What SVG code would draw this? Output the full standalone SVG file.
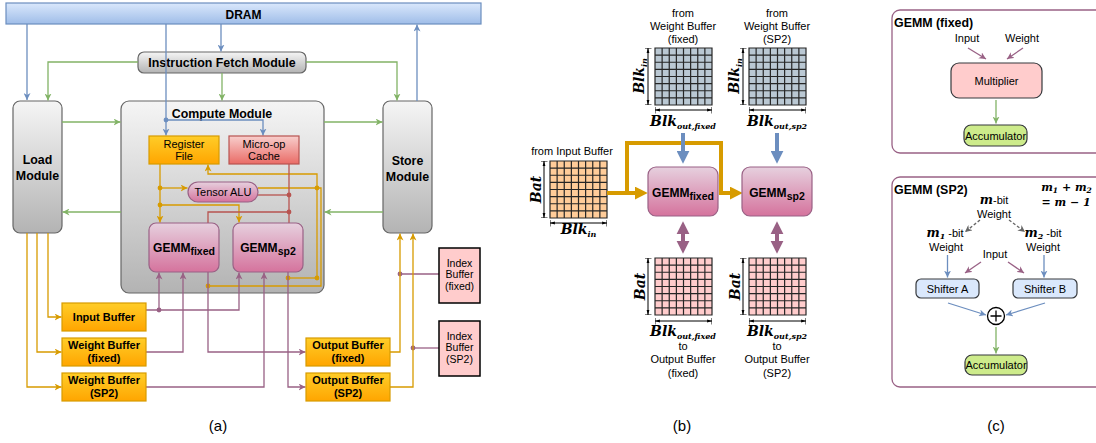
<svg xmlns="http://www.w3.org/2000/svg" xmlns:xlink="http://www.w3.org/1999/xlink" width="1096" height="443" viewBox="0 0 1096 443">
  <style>
    text { font-family: "Liberation Sans", Arial, Helvetica, sans-serif; fill: #000; }
    .bold { font-weight: bold; font-size: 12.4px; }
    .lbl { font-size: 11px; }
    .sm { font-size: 10.5px; }
    .mid { text-anchor: middle; }
    .math { font-family: "DejaVu Serif", "Liberation Serif", serif; font-weight: bold; font-style: italic; font-size: 14px; }
    .sub { font-size: 8px; }
    .cap { font-size: 15px; }
    .ln { fill: none; stroke-width: 1.3; }
    .blue { stroke: #6c8ebf; }
    .green { stroke: #82b366; }
    .orange { stroke: #d79b00; }
    .mauve { stroke: #996185; }
    .red { stroke: #b85450; }
    .gray { stroke: #666666; }
    .thick { fill: none; stroke-width: 4; }
    .dim { fill: none; stroke: #000; stroke-width: 1; marker-start: url(#dimEnd); marker-end: url(#dimEnd); }
    .gridl { fill: none; stroke: #262626; stroke-width: 1.2; }
    .frame { fill: none; stroke: #996185; stroke-width: 1.3; }
    .box { stroke: #36393d; stroke-width: 1.2; }
  </style>
  <defs>
    <linearGradient id="gBlue" x1="0" y1="0" x2="0" y2="1"><stop offset="0" stop-color="#dae8fc"/><stop offset="1" stop-color="#9fbde8"/></linearGradient>
    <linearGradient id="gGray" x1="0" y1="0" x2="0" y2="1"><stop offset="0" stop-color="#f5f5f5"/><stop offset="1" stop-color="#b3b3b3"/></linearGradient>
    <linearGradient id="gOrange" x1="0" y1="0" x2="0" y2="1"><stop offset="0" stop-color="#ffcd28"/><stop offset="1" stop-color="#ffa500"/></linearGradient>
    <linearGradient id="gRed" x1="0" y1="0" x2="0" y2="1"><stop offset="0" stop-color="#f8cecc"/><stop offset="1" stop-color="#ea6b66"/></linearGradient>
    <linearGradient id="gPink" x1="0" y1="0" x2="0" y2="1"><stop offset="0" stop-color="#e6d0de"/><stop offset="1" stop-color="#d5739d"/></linearGradient>

    <marker id="aBlue" viewBox="0 0 10 10" refX="10" refY="5" markerWidth="7" markerHeight="7" markerUnits="userSpaceOnUse" orient="auto"><path d="M0,0 L10,5 L0,10 L3,5 z" fill="#6c8ebf"/></marker>
    <marker id="aGreen" viewBox="0 0 10 10" refX="10" refY="5" markerWidth="7" markerHeight="7" markerUnits="userSpaceOnUse" orient="auto"><path d="M0,0 L10,5 L0,10 L3,5 z" fill="#82b366"/></marker>
    <marker id="aOrange" viewBox="0 0 10 10" refX="10" refY="5" markerWidth="7" markerHeight="7" markerUnits="userSpaceOnUse" orient="auto"><path d="M0,0 L10,5 L0,10 L3,5 z" fill="#d79b00"/></marker>
    <marker id="aMauve" viewBox="0 0 10 10" refX="10" refY="5" markerWidth="7" markerHeight="7" markerUnits="userSpaceOnUse" orient="auto"><path d="M0,0 L10,5 L0,10 L3,5 z" fill="#996185"/></marker>
    <marker id="aGray" viewBox="0 0 10 10" refX="10" refY="5" markerWidth="7" markerHeight="7" markerUnits="userSpaceOnUse" orient="auto"><path d="M0,0 L10,5 L0,10 L3,5 z" fill="#666666"/></marker>

    <marker id="bBlue" viewBox="0 0 12 12" refX="3" refY="6" markerWidth="13" markerHeight="13" markerUnits="userSpaceOnUse" orient="auto"><path d="M0,0 L12,6 L0,12 z" fill="#6c8ebf"/></marker>
    <marker id="bOrange" viewBox="0 0 12 12" refX="3" refY="6" markerWidth="13" markerHeight="13" markerUnits="userSpaceOnUse" orient="auto"><path d="M0,0 L12,6 L0,12 z" fill="#d79b00"/></marker>
    <marker id="bMauve" viewBox="0 0 12 12" refX="3" refY="6" markerWidth="13" markerHeight="14" markerUnits="userSpaceOnUse" orient="auto-start-reverse"><path d="M0,0 L12,6 L0,12 z" fill="#996185"/></marker>

    <marker id="dimEnd" viewBox="0 0 10 10" refX="10" refY="5" markerWidth="7" markerHeight="7" markerUnits="userSpaceOnUse" orient="auto-start-reverse"><path d="M3,3 L10,5 L3,7 z" fill="#000"/><path d="M10,0 V10" stroke="#000" stroke-width="1.4"/></marker>

    <!-- 8x8 cell tile lines -->
    <path id="tile" class="gridl" d="M7.125,0V57M14.25,0V57M21.375,0V57M28.5,0V57M35.625,0V57M42.75,0V57M49.875,0V57M0,7.125H57M0,14.25H57M0,21.375H57M0,28.5H57M0,35.625H57M0,42.75H57M0,49.875H57M0,0H57V57H0Z"/>
  </defs>

  <rect width="1096" height="443" fill="#fff"/>

  <!-- ===== (a) accelerator architecture ===== -->
  <g id="dram"><rect x="6" y="3" width="475" height="21" fill="url(#gBlue)" stroke="#6c8ebf" stroke-width="1.2"/><text class="bold mid" x="243.5" y="18.5" style="font-size:12px">DRAM</text></g>
  <g id="compute-module"><rect x="121" y="101" width="203" height="192" rx="8" fill="url(#gGray)" stroke="#666" stroke-width="1.2"/><text class="bold mid" x="222" y="118">Compute Module</text></g>
  <g id="fetch-module"><rect x="138" y="52" width="168" height="21" rx="6" fill="url(#gGray)" stroke="#666" stroke-width="1.2"/><text class="bold mid" x="222" y="66.5">Instruction Fetch Module</text></g>
  <g id="load-module"><rect x="13" y="101" width="49" height="132" rx="7" fill="url(#gGray)" stroke="#666" stroke-width="1.2"/><text class="bold mid" x="37.5" y="164">Load</text><text class="bold mid" x="37.5" y="180">Module</text></g>
  <g id="store-module"><rect x="383" y="101" width="49" height="132" rx="7" fill="url(#gGray)" stroke="#666" stroke-width="1.2"/><text class="bold mid" x="407.5" y="165">Store</text><text class="bold mid" x="407.5" y="181">Module</text></g>

  <g id="connectors-a">
    <!-- instruction and data paths from/to DRAM -->
    <path class="ln blue" d="M27,24V100" marker-end="url(#aBlue)"/>
    <path class="ln blue" d="M166,24V135.5" marker-end="url(#aBlue)"/>
    <path class="ln blue" d="M166,120H263V135.5" marker-end="url(#aBlue)"/>
    <path class="ln blue" d="M221,24V51.5" marker-end="url(#aBlue)"/>
    <path class="ln blue" d="M417,101V24.5" marker-end="url(#aBlue)"/>
    <circle cx="166" cy="120" r="2.4" fill="#6c8ebf"/>
    <!-- command queues -->
    <path class="ln green" d="M138,62H48V100.5" marker-end="url(#aGreen)"/>
    <path class="ln green" d="M306,62H397V100.5" marker-end="url(#aGreen)"/>
    <path class="ln green" d="M222,73V100.5" marker-end="url(#aGreen)"/>
    <path class="ln green" d="M62,122H120.5" marker-end="url(#aGreen)"/>
    <path class="ln green" d="M324,122H382.5" marker-end="url(#aGreen)"/>
    <path class="ln green" d="M121,212H62.5" marker-end="url(#aGreen)"/>
    <path class="ln green" d="M383,212H324.5" marker-end="url(#aGreen)"/>
    <!-- register file traffic -->
    <path class="ln orange" d="M160,164V222.5" marker-end="url(#aOrange)"/>
    <path class="ln orange" d="M160,188H187.5" marker-end="url(#aOrange)"/>
    <path class="ln orange" d="M160,205H239V222.5" marker-end="url(#aOrange)"/>
    <path class="ln orange" d="M258,188H321V286H208"/>
    <path class="ln orange" d="M317,278V174H208V164.5" marker-end="url(#aOrange)"/>
    <path class="ln orange" d="M288,278H317"/>
    <g fill="#d79b00"><circle cx="160" cy="188" r="2.4"/><circle cx="160" cy="205" r="2.4"/><circle cx="317" cy="188" r="2.4"/><circle cx="317" cy="278" r="2.4"/><circle cx="288" cy="278" r="2.4"/><circle cx="208" cy="286" r="2.4"/></g>
    <!-- micro-op dispatch -->
    <path class="ln red" d="M289,164V223"/>
    <path class="ln red" d="M289,195H258"/>
    <path class="ln red" d="M289,212H208V223"/>
    <g fill="#b85450"><circle cx="289" cy="195" r="2.4"/><circle cx="289" cy="212" r="2.4"/></g>
    <!-- on-chip buffers to/from GEMM cores -->
    <path class="ln mauve" d="M146,310H239V272.5" marker-end="url(#aMauve)"/>
    <path class="ln mauve" d="M159,310V272.5" marker-end="url(#aMauve)"/>
    <path class="ln mauve" d="M146,352H183V272.5" marker-end="url(#aMauve)"/>
    <path class="ln mauve" d="M146,387H264V272.5" marker-end="url(#aMauve)"/>
    <path class="ln mauve" d="M208,272V352H305.5" marker-end="url(#aMauve)"/>
    <path class="ln mauve" d="M288,272V387H305.5" marker-end="url(#aMauve)"/>
    <path class="ln mauve" d="M439,274H400"/>
    <path class="ln mauve" d="M439,348H413"/>
    <g fill="#996185"><circle cx="159" cy="310" r="2.4"/><circle cx="400" cy="274" r="2.4"/><circle cx="413" cy="348" r="2.4"/></g>
    <!-- load / store paths -->
    <path class="ln orange" d="M48,233V317H61.5" marker-end="url(#aOrange)"/>
    <path class="ln orange" d="M37,233V352H61.5" marker-end="url(#aOrange)"/>
    <path class="ln orange" d="M27,233V387H61.5" marker-end="url(#aOrange)"/>
    <path class="ln orange" d="M390,352H400V233.5" marker-end="url(#aOrange)"/>
    <path class="ln orange" d="M390,387H413V233.5" marker-end="url(#aOrange)"/>
  </g>

  <g id="register-file"><rect x="149" y="136" width="70" height="28" fill="url(#gOrange)" stroke="#d79b00" stroke-width="1.2"/><text class="lbl mid" x="184" y="147.5">Register</text><text class="lbl mid" x="184" y="160">File</text></g>
  <g id="microop-cache"><rect x="229" y="136" width="70" height="28" fill="url(#gRed)" stroke="#b85450" stroke-width="1.2"/><text class="lbl mid" x="264" y="147.5">Micro-op</text><text class="lbl mid" x="264" y="160">Cache</text></g>
  <g id="tensor-alu"><rect x="188" y="182" width="70" height="20" rx="10" fill="url(#gPink)" stroke="#996185" stroke-width="1.2"/><text class="lbl mid" x="223" y="196">Tensor ALU</text></g>
  <g id="gemm-fixed-a"><rect x="149" y="223" width="70" height="49" rx="7" fill="url(#gPink)" stroke="#996185" stroke-width="1.2"/><text class="bold mid" x="184" y="251.5" style="font-size:12px">GEMM<tspan dy="3" style="font-size:10.5px">fixed</tspan></text></g>
  <g id="gemm-sp2-a"><rect x="233" y="223" width="70" height="49" rx="7" fill="url(#gPink)" stroke="#996185" stroke-width="1.2"/><text class="bold mid" x="268" y="251.5" style="font-size:12px">GEMM<tspan dy="3" style="font-size:10.5px">sp2</tspan></text></g>

  <g id="input-buffer"><rect x="62" y="303" width="84" height="28" fill="url(#gOrange)" stroke="#d79b00" stroke-width="1.2"/><text class="mid" x="104" y="321" style="font-weight:bold;font-size:11px">Input Buffer</text></g>
  <g id="weight-buffer-fixed"><rect x="62" y="338" width="84" height="28" fill="url(#gOrange)" stroke="#d79b00" stroke-width="1.2"/><text class="mid" x="104" y="349" style="font-weight:bold;font-size:11px">Weight Buffer</text><text class="mid" x="104" y="362" style="font-weight:bold;font-size:11px">(fixed)</text></g>
  <g id="weight-buffer-sp2"><rect x="62" y="373" width="84" height="28" fill="url(#gOrange)" stroke="#d79b00" stroke-width="1.2"/><text class="mid" x="104" y="384" style="font-weight:bold;font-size:11px">Weight Buffer</text><text class="mid" x="104" y="397" style="font-weight:bold;font-size:11px">(SP2)</text></g>
  <g id="output-buffer-fixed"><rect x="306" y="338" width="84" height="28" fill="url(#gOrange)" stroke="#d79b00" stroke-width="1.2"/><text class="mid" x="348" y="349" style="font-weight:bold;font-size:11px">Output Buffer</text><text class="mid" x="348" y="362" style="font-weight:bold;font-size:11px">(fixed)</text></g>
  <g id="output-buffer-sp2"><rect x="306" y="373" width="84" height="28" fill="url(#gOrange)" stroke="#d79b00" stroke-width="1.2"/><text class="mid" x="348" y="384" style="font-weight:bold;font-size:11px">Output Buffer</text><text class="mid" x="348" y="397" style="font-weight:bold;font-size:11px">(SP2)</text></g>
  <g id="index-buffer-fixed"><rect x="439" y="248" width="41" height="55" fill="#ffcccc" stroke="#000" stroke-width="1.5"/><text class="sm mid" x="459.5" y="267">Index</text><text class="sm mid" x="459.5" y="278">Buffer</text><text class="sm mid" x="459.5" y="289.5">(fixed)</text></g>
  <g id="index-buffer-sp2"><rect x="439" y="321" width="41" height="55" fill="#ffcccc" stroke="#000" stroke-width="1.5"/><text class="sm mid" x="459.5" y="340">Index</text><text class="sm mid" x="459.5" y="351">Buffer</text><text class="sm mid" x="459.5" y="362.5">(SP2)</text></g>
  <text class="cap mid" x="218" y="431">(a)</text>

  <!-- ===== (b) tiled GEMM dataflow ===== -->
  <g id="weight-tile-fixed">
    <text class="lbl mid" x="683" y="17">from</text><text class="lbl mid" x="683" y="30">Weight Buffer</text><text class="lbl mid" x="683" y="43">(fixed)</text>
    <rect x="655" y="48" width="57" height="57" fill="#bac8d3"/><use xlink:href="#tile" x="655" y="48"/>
    <path class="dim" d="M648,48V105"/><text class="math mid" transform="translate(644,76) rotate(-90)">Blk<tspan class="sub" dy="2.5">in</tspan></text>
    <path class="dim" d="M655,110H712"/><text class="math mid" x="683" y="126">Blk<tspan class="sub" dy="2.5">out,fixed</tspan></text>
  </g>
  <g id="weight-tile-sp2">
    <text class="lbl mid" x="777" y="17">from</text><text class="lbl mid" x="777" y="30">Weight Buffer</text><text class="lbl mid" x="777" y="43">(SP2)</text>
    <rect x="749" y="48" width="57" height="57" fill="#bac8d3"/><use xlink:href="#tile" x="749" y="48"/>
    <path class="dim" d="M743,48V105"/><text class="math mid" transform="translate(739,76) rotate(-90)">Blk<tspan class="sub" dy="2.5">in</tspan></text>
    <path class="dim" d="M749,110H806"/><text class="math mid" x="777" y="126">Blk<tspan class="sub" dy="2.5">out,sp2</tspan></text>
  </g>
  <g id="input-tile">
    <text class="lbl mid" x="572" y="154.5">from Input Buffer</text>
    <rect x="550" y="161" width="57" height="57" fill="#ffcc99"/><use xlink:href="#tile" x="550" y="161"/>
    <path class="dim" d="M544,161V218"/><text class="math mid" transform="translate(541,189.5) rotate(-90)">Bat</text>
    <path class="dim" d="M550,223H607"/><text class="math mid" x="578.5" y="234">Blk<tspan class="sub" dy="2.5">in</tspan></text>
  </g>
  <g id="output-tile-fixed">
    <rect x="655" y="258" width="57" height="57" fill="#ffcccc"/><use xlink:href="#tile" x="655" y="258"/>
    <path class="dim" d="M648,258V315"/><text class="math mid" transform="translate(645,286.5) rotate(-90)">Bat</text>
    <path class="dim" d="M655,321H712"/><text class="math mid" x="683" y="336">Blk<tspan class="sub" dy="2.5">out,fixed</tspan></text>
    <text class="lbl mid" x="683" y="350">to</text><text class="lbl mid" x="683" y="363">Output Buffer</text><text class="lbl mid" x="683" y="376.5">(fixed)</text>
  </g>
  <g id="output-tile-sp2">
    <rect x="749" y="258" width="57" height="57" fill="#ffcccc"/><use xlink:href="#tile" x="749" y="258"/>
    <path class="dim" d="M743,258V315"/><text class="math mid" transform="translate(740,286.5) rotate(-90)">Bat</text>
    <path class="dim" d="M749,321H806"/><text class="math mid" x="777" y="336">Blk<tspan class="sub" dy="2.5">out,sp2</tspan></text>
    <text class="lbl mid" x="777" y="350">to</text><text class="lbl mid" x="777" y="363">Output Buffer</text><text class="lbl mid" x="777" y="376.5">(SP2)</text>
  </g>
  <g id="connectors-b">
    <path class="thick orange" d="M607,193H638" marker-end="url(#bOrange)"/>
    <path class="thick orange" d="M627,193V143H721V193H733" marker-end="url(#bOrange)"/>
    <path class="thick blue" d="M683,133V154" marker-end="url(#bBlue)"/>
    <path class="thick blue" d="M777,133V154" marker-end="url(#bBlue)"/>
    <path class="thick mauve" d="M683,231V244" marker-start="url(#bMauve)" marker-end="url(#bMauve)"/>
    <path class="thick mauve" d="M777,231V244" marker-start="url(#bMauve)" marker-end="url(#bMauve)"/>
  </g>
  <g id="gemm-fixed-b"><rect x="648" y="167" width="70" height="49" rx="8" fill="url(#gPink)" stroke="#996185" stroke-width="1.2"/><text class="bold mid" x="683" y="197" style="font-size:12px">GEMM<tspan dy="3" style="font-size:10.5px">fixed</tspan></text></g>
  <g id="gemm-sp2-b"><rect x="742" y="167" width="70" height="49" rx="8" fill="url(#gPink)" stroke="#996185" stroke-width="1.2"/><text class="bold mid" x="777" y="197" style="font-size:12px">GEMM<tspan dy="3" style="font-size:10.5px">sp2</tspan></text></g>
  <text class="cap mid" x="682" y="431">(b)</text>

  <!-- ===== (c) processing elements ===== -->
  <g id="pe-fixed">
    <rect class="frame" x="892" y="10" width="215" height="143" rx="8"/>
    <text class="bold" x="894" y="27">GEMM (fixed)</text>
    <text class="lbl mid" x="967" y="42">Input</text>
    <text class="lbl mid" x="1022" y="42">Weight</text>
    <rect class="box" x="951" y="63" width="91" height="35" rx="8" fill="#ffcccc"/>
    <text class="lbl mid" x="996.5" y="85">Multiplier</text>
    <rect class="box" x="964" y="125" width="63" height="21" rx="7" fill="#cdeb8b"/>
    <text class="lbl mid" x="995.5" y="139.5">Accumulator</text>
  </g>
  <g id="pe-sp2">
    <rect class="frame" x="892" y="177" width="215" height="210" rx="8"/>
    <text class="bold" x="894" y="194">GEMM (SP2)</text>
    <text class="math" x="1066.5" y="191" text-anchor="middle" style="font-size:11px">m<tspan dy="2" style="font-size:7.5px">1</tspan><tspan dy="-2"> + m</tspan><tspan dy="2" style="font-size:7.5px">2</tspan></text>
    <text class="math" x="1066" y="206" text-anchor="middle" style="font-size:11px">= m − 1</text>
    <text class="lbl mid" x="994" y="204"><tspan class="math" style="font-size:12.5px">m</tspan>-bit</text>
    <text class="lbl mid" x="994" y="217.5">Weight</text>
    <text class="lbl mid" x="945" y="237"><tspan class="math" style="font-size:12.5px">m<tspan dy="2" style="font-size:8px">1</tspan></tspan><tspan dy="-2"> -bit</tspan></text>
    <text class="lbl mid" x="946" y="251">Weight</text>
    <text class="lbl mid" x="1043" y="237"><tspan class="math" style="font-size:12.5px">m<tspan dy="2" style="font-size:8px">2</tspan></tspan><tspan dy="-2"> -bit</tspan></text>
    <text class="lbl mid" x="1043" y="251">Weight</text>
    <text class="lbl mid" x="995" y="258">Input</text>
    <rect class="box" x="916" y="279" width="63" height="19" rx="5" fill="#dae8fc"/>
    <text class="lbl mid" x="947.5" y="292.5">Shifter A</text>
    <rect class="box" x="1013" y="279" width="64" height="19" rx="5" fill="#dae8fc"/>
    <text class="lbl mid" x="1045" y="292.5">Shifter B</text>
    <circle cx="996" cy="316" r="8.5" fill="#fff" stroke="#000" stroke-width="1.3"/>
    <path d="M990.5,316H1001.5M996,310.5V321.5" stroke="#000" stroke-width="1.3"/>
    <rect class="box" x="965" y="355" width="62" height="20" rx="7" fill="#cdeb8b"/>
    <text class="lbl mid" x="996" y="369">Accumulator</text>
  </g>
  <g id="connectors-c">
    <path class="ln mauve" d="M968,48L986,59" marker-end="url(#aMauve)"/>
    <path class="ln mauve" d="M1023,48L1007,59" marker-end="url(#aMauve)"/>
    <path class="ln green" d="M996,100V123.5" marker-end="url(#aGreen)"/>
    <path class="ln gray" d="M980,220L965,232" stroke-dasharray="3,2" marker-end="url(#aGray)"/>
    <path class="ln gray" d="M1009,220L1025,232" stroke-dasharray="3,2" marker-end="url(#aGray)"/>
    <path class="ln blue" d="M947.5,255V277.5" marker-end="url(#aBlue)"/>
    <path class="ln blue" d="M1044,255V277.5" marker-end="url(#aBlue)"/>
    <path class="ln mauve" d="M981,262L965,273" marker-end="url(#aMauve)"/>
    <path class="ln mauve" d="M1008,262L1024,273" marker-end="url(#aMauve)"/>
    <path class="ln blue" d="M948,303L986,315" marker-end="url(#aBlue)"/>
    <path class="ln blue" d="M1045,303L1006,315" marker-end="url(#aBlue)"/>
    <path class="ln green" d="M996,327V353.5" marker-end="url(#aGreen)"/>
  </g>
  <text class="cap mid" x="996" y="431">(c)</text>
</svg>
